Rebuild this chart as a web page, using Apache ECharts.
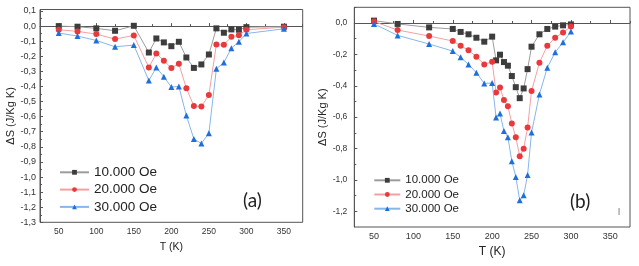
<!DOCTYPE html>
<html>
<head>
<meta charset="utf-8">
<script src="https://cdn.jsdelivr.net/npm/echarts@6/dist/echarts.min.js"></script>
<style>
  html, body { margin: 0; padding: 0; background: #fff; }
  #chart { width: 639px; height: 266px; }
</style>
</head>
<body>
<div id="chart"></div>
<script>
// panel (a) temperatures and entropy change
var tempA = [50, 75, 100, 125, 150, 170, 180, 190, 200, 210, 220, 230, 240, 250, 260, 270, 280, 290, 300, 350];
var dsA10 = [0.000, -0.004, -0.015, -0.031, 0.002, -0.175, -0.082, -0.108, -0.133, -0.104, -0.208, -0.277, -0.254, -0.188, -0.015, -0.044, -0.022, -0.024, -0.007, -0.004];
var dsA20 = [-0.024, -0.035, -0.053, -0.086, -0.062, -0.274, -0.181, -0.230, -0.277, -0.250, -0.412, -0.529, -0.533, -0.456, -0.122, -0.124, -0.071, -0.060, -0.024, -0.007];
var dsA30 = [-0.046, -0.066, -0.095, -0.137, -0.126, -0.361, -0.274, -0.336, -0.403, -0.400, -0.593, -0.748, -0.778, -0.710, -0.283, -0.241, -0.146, -0.104, -0.049, -0.018];

// panel (b)
var tempB = [50, 80, 120, 150, 160, 170, 180, 190, 200, 205, 210, 215, 220, 225, 230, 235, 240, 245, 250, 260, 270, 280, 290, 300];
var dsB10 = [0.015, -0.006, -0.028, -0.038, -0.057, -0.072, -0.094, -0.119, -0.087, -0.238, -0.202, -0.249, -0.272, -0.338, -0.409, -0.479, -0.417, -0.294, -0.151, -0.072, -0.038, -0.023, -0.015, -0.009];
var dsB20 = [0.009, -0.045, -0.083, -0.115, -0.145, -0.174, -0.215, -0.264, -0.247, -0.443, -0.411, -0.491, -0.530, -0.640, -0.728, -0.849, -0.802, -0.666, -0.434, -0.253, -0.145, -0.094, -0.060, -0.023];
var dsB30 = [-0.006, -0.079, -0.134, -0.179, -0.219, -0.264, -0.317, -0.385, -0.383, -0.602, -0.577, -0.689, -0.728, -0.881, -0.981, -1.130, -1.098, -0.968, -0.698, -0.455, -0.285, -0.187, -0.123, -0.055];

var seriesNames = ['10.000 Oe', '20.000 Oe', '30.000 Oe'];

// tick labels
var xTicks = [50, 100, 150, 200, 250, 300, 350];
var xMinorTicks = [25, 75, 125, 175, 225, 275, 325, 375];
var yTicksA = [-1.3, -1.2, -1.1, -1.0, -0.9, -0.8, -0.7, -0.6, -0.5, -0.4, -0.3, -0.2, -0.1, 0.0, 0.1];
var yMinorA = [-1.25, -1.15, -1.05, -0.95, -0.85, -0.75, -0.65, -0.55, -0.45, -0.35, -0.25, -0.15, -0.05, 0.05];
var yTicksB = [-1.2, -1.0, -0.8, -0.6, -0.4, -0.2, 0.0];
var yMinorB = [-1.1, -0.9, -0.7, -0.5, -0.3, -0.1, 0.1];

var markerColors = ['#3d3d3d', '#e8393c', '#1e6fdc'];
var lineColors = ['#9c9c9c', '#f3a0a2', '#86b6ec'];
var symbols = ['rect', 'circle', 'triangle'];

var axisColor = '#555';
var font = 'Liberation Sans, Arial, sans-serif';

function commaFmt(v) {
  if (Math.abs(v) < 1e-9) return '0,0';
  return v.toFixed(1).replace('.', ',');
}

function pairs(xs, ys) {
  return xs.map(function (x, i) { return [x, ys[i]]; });
}

var chart = echarts.init(document.getElementById('chart'));

function mainX(grid, nameGap, nameSize, labelSize) {
  return {
    gridIndex: grid, type: 'value', min: 25, max: 375,
    name: 'T (K)', nameLocation: 'middle', nameGap: nameGap,
    nameTextStyle: { fontFamily: font, fontSize: nameSize, color: '#222' },
    axisLine: { lineStyle: { color: axisColor } },
    axisTick: { inside: true, length: 3, customValues: xTicks, lineStyle: { color: axisColor } },
    axisLabel: { customValues: xTicks, fontFamily: font, fontSize: labelSize, color: '#333', margin: 5 },
    splitLine: { show: false }
  };
}
function minorX(grid) {
  return {
    gridIndex: grid, type: 'value', min: 25, max: 375, position: 'bottom',
    axisLine: { show: false },
    axisTick: { inside: true, length: 2, customValues: xMinorTicks, lineStyle: { color: axisColor } },
    axisLabel: { show: false },
    splitLine: { show: false }
  };
}
function mainY(grid, min, max, ticks, nameGap, labelMargin, labelSize) {
  return {
    gridIndex: grid, type: 'value', min: min, max: max,
    name: 'ΔS (J/Kg K)', nameLocation: 'middle', nameGap: nameGap,
    nameTextStyle: { fontFamily: font, fontSize: 11, color: '#222' },
    axisLine: { show: true, lineStyle: { color: axisColor } },
    axisTick: { show: true, inside: true, length: 3, customValues: ticks, lineStyle: { color: axisColor } },
    axisLabel: { customValues: ticks, formatter: commaFmt, fontFamily: font, fontSize: labelSize, color: '#333', margin: labelMargin },
    splitLine: { show: false }
  };
}
function minorY(grid, min, max, ticks) {
  return {
    gridIndex: grid, type: 'value', min: min, max: max, position: 'left',
    axisLine: { show: false },
    axisTick: { show: true, inside: true, length: 2, customValues: ticks, lineStyle: { color: axisColor } },
    axisLabel: { show: false },
    splitLine: { show: false }
  };
}

function makeSeries(idx, xAxisIndex, yAxisIndex, xs, ys) {
  return {
    name: seriesNames[idx], type: 'line',
    xAxisIndex: xAxisIndex, yAxisIndex: yAxisIndex,
    data: pairs(xs, ys),
    symbol: symbols[idx], symbolSize: 6,
    itemStyle: { color: markerColors[idx] },
    lineStyle: { color: lineColors[idx], width: 1 },
    z: 2 + idx,
    animation: false
  };
}

chart.setOption({
  animation: false,
  grid: [
    { left: 40, top: 9.5, width: 262.7, height: 212.8, show: true, borderColor: axisColor, borderWidth: 1 },
    { left: 354.3, top: 7.3, width: 275.7, height: 219.7, show: true, borderColor: axisColor, borderWidth: 1 }
  ],
  xAxis: [mainX(0, 18, 10.5, 8.5), minorX(0), mainX(1, 19, 12, 9), minorX(1)],
  yAxis: [
    mainY(0, -1.3, 0.11, yTicksA, 23, 4, 9), minorY(0, -1.3, 0.11, yMinorA),
    mainY(1, -1.3, 0.1, yTicksB, 20, 7, 8.5), minorY(1, -1.3, 0.1, yMinorB)
  ],
  legend: [
    {
      orient: 'vertical', left: 54, top: 159.8, data: seriesNames,
      itemWidth: 29, itemHeight: 6, itemGap: 2.3,
      textStyle: { fontFamily: font, fontSize: 13.5, lineHeight: 15, color: '#222' }
    },
    {
      orient: 'vertical', left: 368.3, top: 168.8, data: seriesNames,
      itemWidth: 26, itemHeight: 6, itemGap: 1.2,
      textStyle: { fontFamily: font, fontSize: 11.5, lineHeight: 13, color: '#222' }
    }
  ],
  graphic: [
    { type: 'text', left: 243, top: 191, style: { text: '(a)', fontFamily: 'Lato, sans-serif', fontSize: 19, fill: '#222' } },
    { type: 'text', left: 570, top: 192, style: { text: '(b)', fontFamily: 'Lato, sans-serif', fontSize: 19, fill: '#222' } },
    { type: 'text', left: 618, top: 207, style: { text: '|', fontFamily: font, fontSize: 8, fill: '#444' } }
  ],
  series: [
    makeSeries(0, 0, 0, tempA, dsA10),
    makeSeries(1, 0, 0, tempA, dsA20),
    makeSeries(2, 0, 0, tempA, dsA30),
    makeSeries(0, 2, 2, tempB, dsB10),
    makeSeries(1, 2, 2, tempB, dsB20),
    makeSeries(2, 2, 2, tempB, dsB30)
  ]
});
</script>
</body>
</html>
